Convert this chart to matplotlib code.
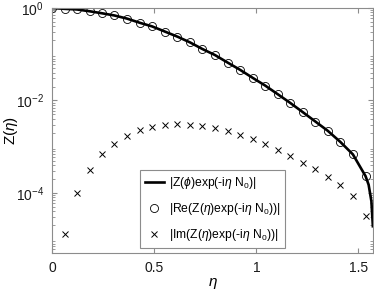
import numpy as np
import matplotlib
matplotlib.use("Agg")
import matplotlib.pyplot as plt

# ---------------------------------------------------------------
# datos
# ---------------------------------------------------------------
eta = [0.000, 0.060, 0.121, 0.183, 0.243, 0.304, 0.366, 0.428, 0.489,
       0.551, 0.613, 0.675, 0.735, 0.797, 0.859, 0.920, 0.981, 1.043,
       1.105, 1.165, 1.227, 1.289, 1.350, 1.412, 1.473, 1.535]

re_val = [1.0, 0.96, 0.93, 0.85, 0.77, 0.69, 0.59, 0.48, 0.40, 0.31,
          0.24, 0.18, 0.13, 0.096, 0.066, 0.046, 0.031, 0.021, 0.0136,
          0.0089, 0.0056, 0.0035, 0.0022, 0.00126, 6.8e-4, 2.3e-4]

eta_im = eta[1:]
im_val = [1.26e-5, 9.8e-5, 3.1e-4, 6.9e-4, 1.13e-3, 1.7e-3, 2.24e-3,
          2.7e-3, 3.0e-3, 3.1e-3, 3.0e-3, 2.8e-3, 2.6e-3, 2.2e-3, 1.8e-3,
          1.47e-3, 1.14e-3, 8.5e-4, 6.3e-4, 4.5e-4, 3.25e-4, 2.2e-4,
          1.45e-4, 8.5e-5, 3.2e-5]

# cola de la curva continua cerca de pi/2
eta_tail = [1.550, 1.5635, 1.5708]
tail_val = [1.5e-4, 6.6e-5, 1.9e-5]

eta_line = eta + eta_tail
line_val = re_val + tail_val

# ---------------------------------------------------------------
# estilo
# ---------------------------------------------------------------
plt.rcParams['font.family'] = ['Liberation Sans', 'DejaVu Sans']
plt.rcParams['mathtext.fontset'] = 'custom'
plt.rcParams['mathtext.rm'] = 'Liberation Sans'
plt.rcParams['mathtext.it'] = 'Liberation Sans:italic'
plt.rcParams['font.size'] = 10

fig = plt.figure(figsize=(3.74, 2.97), dpi=100)
ax = fig.add_axes([0.14, 0.148, 0.857, 0.825])

ax.semilogy(eta_line, line_val, color='black', lw=1.9,
            label=r'|Z($\phi$)exp(-i$\eta$ N$_0$)|')
ax.semilogy(eta, re_val, 'o', mfc='none', mec='black', ms=5.8, mew=0.6,
            label=r'|Re(Z($\eta$)exp(-i$\eta$ N$_0$))|')
ax.semilogy(eta_im, im_val, 'x', color='black', ms=3.8, mew=0.7,
            label=r'|Im(Z($\eta$)exp(-i$\eta$ N$_0$))|')

ax.set_xlim(0, np.pi / 2)
ax.set_ylim(5e-6, 1)
ax.set_xticks([0, 0.5, 1, 1.5])
ax.set_xticklabels(['0', '0.5', '1', '1.5'])
ax.set_yticks([1e-4, 1e-2, 1e0])

for s in ax.spines.values():
    s.set_color('0.55')
    s.set_linewidth(0.8)
ax.tick_params(which='both', direction='in', top=True, right=True,
               color='0.55', labelcolor='0.1')
ax.tick_params(which='major', length=3.5, pad=6)
ax.tick_params(which='minor', length=2)

ax.set_xlabel(r'$\eta$', fontsize=11, va='center')
ax.xaxis.set_label_coords(0.5, -0.125)
ax.set_ylabel(r'Z($\eta$)', fontsize=11, va='center')
ax.yaxis.set_label_coords(-0.128, 0.5)

leg = ax.legend(loc='lower center', bbox_to_anchor=(0.5, 0.02),
                borderaxespad=0, fancybox=False, framealpha=1,
                edgecolor='0.55', fontsize=8.7, handlelength=1.6,
                labelspacing=0.85, handletextpad=0.4, borderpad=0.4)
leg.get_frame().set_linewidth(0.8)

fig.savefig('out.png', dpi=100)
